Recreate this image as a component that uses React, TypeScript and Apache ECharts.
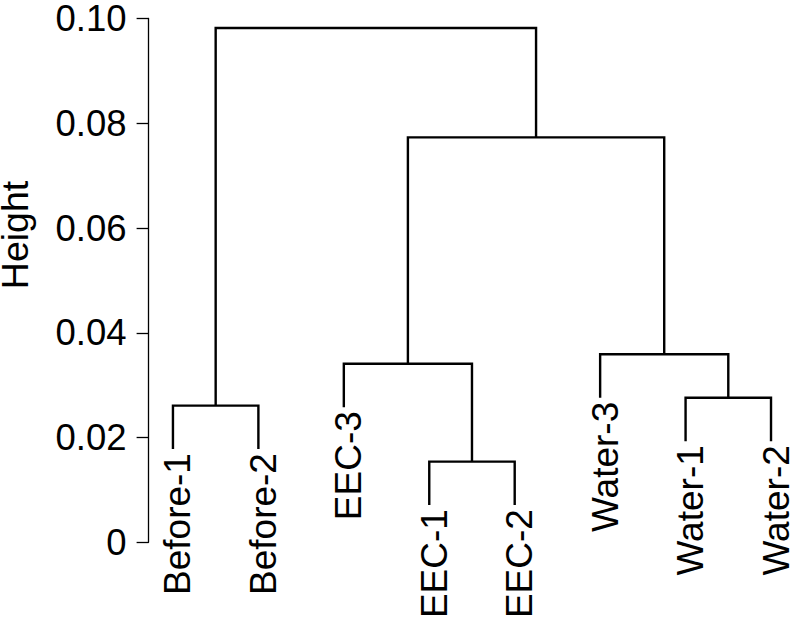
import React, { useEffect, useRef } from "react";
import * as echarts from "echarts";

// Leaves in dendrogram order (left to right)
const leafLabels = ["Before-1", "Before-2", "EEC-3", "EEC-1", "EEC-2", "Water-3", "Water-1", "Water-2"];
// hclust-style merge table: negative = leaf (1-based position), positive = earlier merge (1-based)
const mergeLeft = [-1, -4, -3, -7, -6, 3, 1];
const mergeRight = [-2, -5, 2, -8, 4, 5, 6];
const mergeHeight = [0.0261, 0.0154, 0.0341, 0.0276, 0.0359, 0.0773, 0.0982];
const leafHang = 0.0083;
const yTickValues = [0, 0.02, 0.04, 0.06, 0.08, 0.1];
const yAxisTitle = "Height";

const FONT = "'Liberation Sans', Arial, Helvetica, sans-serif";

function buildTree() {
  const mergeX: number[] = [];
  const leafParentHeight: number[] = new Array(leafLabels.length).fill(0);
  const nodeX = (ref: number) => (ref < 0 ? -ref : mergeX[ref - 1]);
  mergeLeft.forEach((l, k) => {
    const r = mergeRight[k];
    mergeX.push((nodeX(l) + nodeX(r)) / 2);
    [l, r].forEach((c) => {
      if (c < 0) leafParentHeight[-c - 1] = mergeHeight[k];
    });
  });
  const nodeY = (ref: number) => (ref < 0 ? leafParentHeight[-ref - 1] - leafHang : mergeHeight[ref - 1]);
  const links = mergeLeft.map((l, k) => {
    const r = mergeRight[k];
    return [nodeX(l), nodeY(l), nodeX(r), nodeY(r), mergeHeight[k]];
  });
  const leaves = leafLabels.map((_, i) => [i + 1, leafParentHeight[i] - leafHang]);
  return { links, leaves };
}

export default function App() {
  const ref = useRef<HTMLDivElement>(null);
  useEffect(() => {
    if (!ref.current) return;
    const chart = echarts.init(ref.current, null, { renderer: "svg" });
    const { links, leaves } = buildTree();
    chart.setOption({
      animation: false,
      backgroundColor: "#ffffff",
      grid: { left: 148.6, right: 1.9, top: 15.3, bottom: 81.7, containLabel: false },
      xAxis: { type: "value", min: 0.715, max: 8.2, show: false },
      yAxis: {
        type: "value",
        min: yTickValues[0],
        max: yTickValues[yTickValues.length - 1],
        interval: 0.02,
        axisLine: { show: true, lineStyle: { color: "#000", width: 1.3 } },
        axisTick: { show: true, length: 12, lineStyle: { color: "#000", width: 1.3 } },
        axisLabel: {
          margin: 22,
          fontSize: 36.5,
          fontFamily: FONT,
          color: "#000",
          formatter: (v: number) => (v === 0 ? "0" : v.toFixed(2)),
        },
        splitLine: { show: false },
      },
      graphic: [
        {
          type: "text",
          x: 14.5,
          y: 235,
          rotation: Math.PI / 2,
          style: {
            text: yAxisTitle,
            fontSize: 37.5,
            fontFamily: FONT,
            fill: "#000",
            align: "center",
            verticalAlign: "middle",
          },
        },
      ],
      series: [
        {
          type: "custom",
          clip: false,
          data: links,
          renderItem: (params: any, api: any) => {
            const p1 = api.coord([api.value(0), api.value(1)]);
            const p2 = api.coord([api.value(0), api.value(4)]);
            const p3 = api.coord([api.value(2), api.value(4)]);
            const p4 = api.coord([api.value(2), api.value(3)]);
            return {
              type: "polyline",
              shape: { points: [p1, p2, p3, p4] },
              style: { stroke: "#000", lineWidth: 2.4, fill: null },
            };
          },
        },
        {
          type: "custom",
          clip: false,
          data: leaves,
          renderItem: (params: any, api: any) => {
            const p = api.coord([api.value(0), api.value(1)]);
            return {
              type: "text",
              x: p[0] + 5,
              y: p[1] + 4,
              rotation: Math.PI / 2,
              style: {
                text: leafLabels[params.dataIndex],
                fontSize: 37,
                fontFamily: FONT,
                fill: "#000",
                align: "right",
                verticalAlign: "middle",
              },
            };
          },
        },
      ],
    });
    return () => chart.dispose();
  }, []);
  return (
    <div
      ref={ref}
      style={{ position: "fixed", left: 0, top: 0, width: 790, height: 624, background: "#fff" }}
    />
  );
}
